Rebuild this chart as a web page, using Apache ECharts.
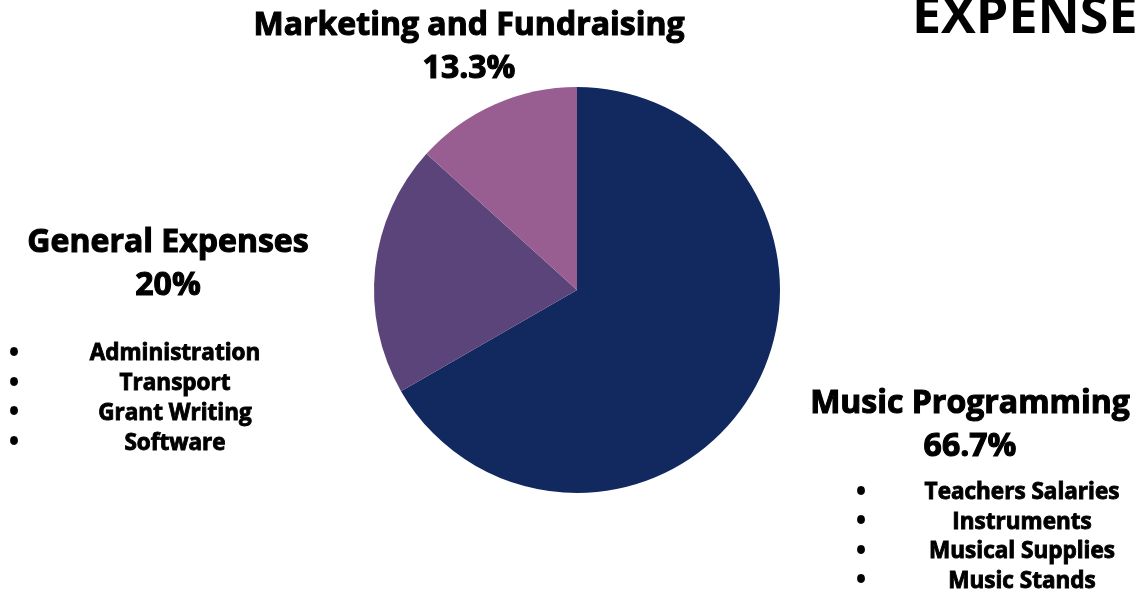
<!DOCTYPE html>
<html>
<head>
<meta charset="utf-8">
<script src="https://cdn.jsdelivr.net/npm/echarts@6/dist/echarts.min.js"></script>
<style>html,body{margin:0;padding:0;background:#fff;}#c{width:1136px;height:592px;}</style>
</head>
<body>
<div id="c"></div>
<script>
const categories = ['Music Programming', 'General Expenses', 'Marketing and Fundraising'];
const values = [66.7, 20, 13.3];
const sliceColors = ['#12295f', '#5b4479', '#985e92'];
const titleText = 'EXPENSES';
const generalItems = ['Administration', 'Transport', 'Grant Writing', 'Software'];
const musicItems = ['Teachers Salaries', 'Instruments', 'Musical Supplies', 'Music Stands'];

const FONT = '"Open Sans", "Noto Sans", sans-serif';
const labelPos = [
  { x: 970, y: 425 },
  { x: 168, y: 264 },
  { x: 469, y: 47 }
];

function bulletList(items, dotX, textX, y0, step) {
  const out = [];
  items.forEach((t, i) => {
    out.push({ type: 'text', x: dotX, y: y0 + i * step,
      style: { text: '\u2022', font: '700 28px ' + FONT, fill: '#000', textAlign: 'center', textVerticalAlign: 'middle' } });
    out.push({ type: 'text', x: textX, y: y0 + i * step,
      style: { text: t, font: '700 22.5px ' + FONT, fill: '#000', stroke: '#000', lineWidth: 0.9,
        textAlign: 'center', textVerticalAlign: 'middle' } });
  });
  return out;
}

const chart = echarts.init(document.getElementById('c'), null, { renderer: 'canvas' });
chart.setOption({
  backgroundColor: '#ffffff',
  animation: false,
  graphic: [
    { type: 'text', x: 912, y: 18,
      style: { text: titleText, font: '700 52px ' + FONT, fill: '#000', textAlign: 'left', textVerticalAlign: 'middle' } }
  ].concat(bulletList(generalItems, 14, 175, 354, 29.7))
   .concat(bulletList(musicItems, 861, 1022, 493, 29.5)),
  series: [{
    type: 'pie',
    center: [577, 290],
    radius: [0, 203],
    startAngle: 90,
    clockwise: true,
    data: categories.map((c, i) => ({ name: c, value: values[i], itemStyle: { color: sliceColors[i] } })),
    label: {
      show: true,
      position: 'outside',
      fontFamily: FONT,
      fontWeight: 700,
      fontSize: 32,
      color: '#000',
      formatter: '{n|{b}}\n{v|{c}%}',
      rich: {
        n: { fontFamily: FONT, fontWeight: 700, fontSize: 32, color: '#000', textBorderColor: '#000', textBorderWidth: 1.1, lineHeight: 43, align: 'center' },
        v: { fontFamily: FONT, fontWeight: 700, fontSize: 32, color: '#000', textBorderColor: '#000', textBorderWidth: 1.1, lineHeight: 43, align: 'center' }
      }
    },
    labelLine: { show: false },
    labelLayout: function (p) {
      const pos = labelPos[p.dataIndex];
      return { x: pos.x, y: pos.y, align: 'center', verticalAlign: 'middle', hideOverlap: false, moveOverlap: null };
    },
    emphasis: { disabled: true }
  }]
});
</script>
</body>
</html>
